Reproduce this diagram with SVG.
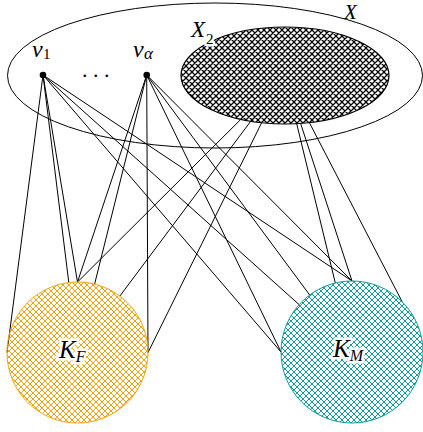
<svg xmlns="http://www.w3.org/2000/svg" width="423" height="432" viewBox="0 0 423 432">
<style>
.lbl{font-family:"Liberation Serif","DejaVu Serif",serif;font-style:italic;fill:#000}
.up{font-family:"Liberation Serif","DejaVu Serif",serif;fill:#000}
.halo{paint-order:stroke;stroke:#fff;stroke-width:5;stroke-linejoin:round}
#edges line{stroke:#000;stroke-width:1;fill:none}
.hp{fill:none}
</style>
<defs>
<pattern id="pBlack" width="6" height="6" patternUnits="userSpaceOnUse">
<path class="hp" d="M0,0 L6,6 M6,0 L0,6 M5,-1 L7,1 M-1,5 L1,7 M-1,1 L1,-1 M5,7 L7,5" stroke="#000" stroke-width="1.25"/>
</pattern>
<pattern id="pOrange" width="6" height="6" patternUnits="userSpaceOnUse">
<path class="hp" d="M0,0 L6,6 M6,0 L0,6 M5,-1 L7,1 M-1,5 L1,7 M-1,1 L1,-1 M5,7 L7,5" stroke="#f2a20a" stroke-width="1"/>
</pattern>
<pattern id="pTeal" width="6" height="6" patternUnits="userSpaceOnUse">
<path class="hp" d="M0,0 L6,6 M6,0 L0,6 M5,-1 L7,1 M-1,5 L1,7 M-1,1 L1,-1 M5,7 L7,5" stroke="#109c9c" stroke-width="1"/>
</pattern>
</defs>
<rect width="423" height="432" fill="#fff"/>
<g id="X">
<ellipse cx="215" cy="75.5" rx="207.5" ry="72.5" fill="none" stroke="#000" stroke-width="1"/>
<text class="lbl" x="344" y="18.7" font-size="21">X</text>
</g>
<g id="X2">
<ellipse cx="285" cy="75.5" rx="104" ry="48.5" fill="url(#pBlack)" stroke="#000" stroke-width="1.2"/>
<text class="lbl halo" x="191" y="37" font-size="23">X<tspan class="up" font-style="normal" font-size="15" dx="1" dy="7">2</tspan></text>
</g>
<g id="edges">
<line x1="43" y1="75" x2="7" y2="352.5"/>
<line x1="43" y1="75" x2="68.8" y2="282.5"/>
<line x1="43" y1="75" x2="77.5" y2="282"/>
<line x1="43" y1="75" x2="281" y2="352"/>
<line x1="43" y1="75" x2="299.1" y2="304.6"/>
<line x1="43" y1="75" x2="352" y2="281"/>
<line x1="146.7" y1="75" x2="77.5" y2="282"/>
<line x1="146.7" y1="75" x2="94.6" y2="284.1"/>
<line x1="146.7" y1="75" x2="148" y2="352.5"/>
<line x1="146.7" y1="75" x2="281" y2="352"/>
<line x1="146.7" y1="75" x2="309.7" y2="295"/>
<line x1="146.7" y1="75" x2="352" y2="281"/>
<line x1="240.8" y1="119.4" x2="77.5" y2="282"/>
<line x1="250.7" y1="121.3" x2="119.8" y2="296.1"/>
<line x1="261.6" y1="122.8" x2="148" y2="352.5"/>
<line x1="300.6" y1="123.4" x2="352" y2="281"/>
<line x1="296.7" y1="123.7" x2="335.3" y2="283"/>
<line x1="309.4" y1="122.7" x2="402.2" y2="301.8"/>
</g>
<g id="v1">
<circle cx="43" cy="75" r="3.3" fill="#000"/>
<text class="lbl" x="32" y="57" font-size="24">v</text>
<text class="up" x="43" y="59" font-size="15">1</text>
</g>
<g id="dots">
<text class="up" x="82" y="77" font-size="22">. . .</text>
</g>
<g id="va">
<circle cx="146.7" cy="75" r="3.3" fill="#000"/>
<text class="lbl" x="133" y="57" font-size="24">v</text>
<text class="lbl" x="144" y="59" font-size="17">α</text>
</g>
<g id="KF">
<circle cx="77.5" cy="352.5" r="70.5" fill="url(#pOrange)" stroke="#f2a20a" stroke-width="1"/>
<text class="lbl halo" x="59" y="358" font-size="25">K<tspan font-size="16" dy="4">F</tspan></text>
</g>
<g id="KM">
<circle cx="352" cy="352" r="71" fill="url(#pTeal)" stroke="#109c9c" stroke-width="1"/>
<text class="lbl halo" x="333" y="357" font-size="25">K<tspan font-size="16" dy="4">M</tspan></text>
</g>
</svg>
